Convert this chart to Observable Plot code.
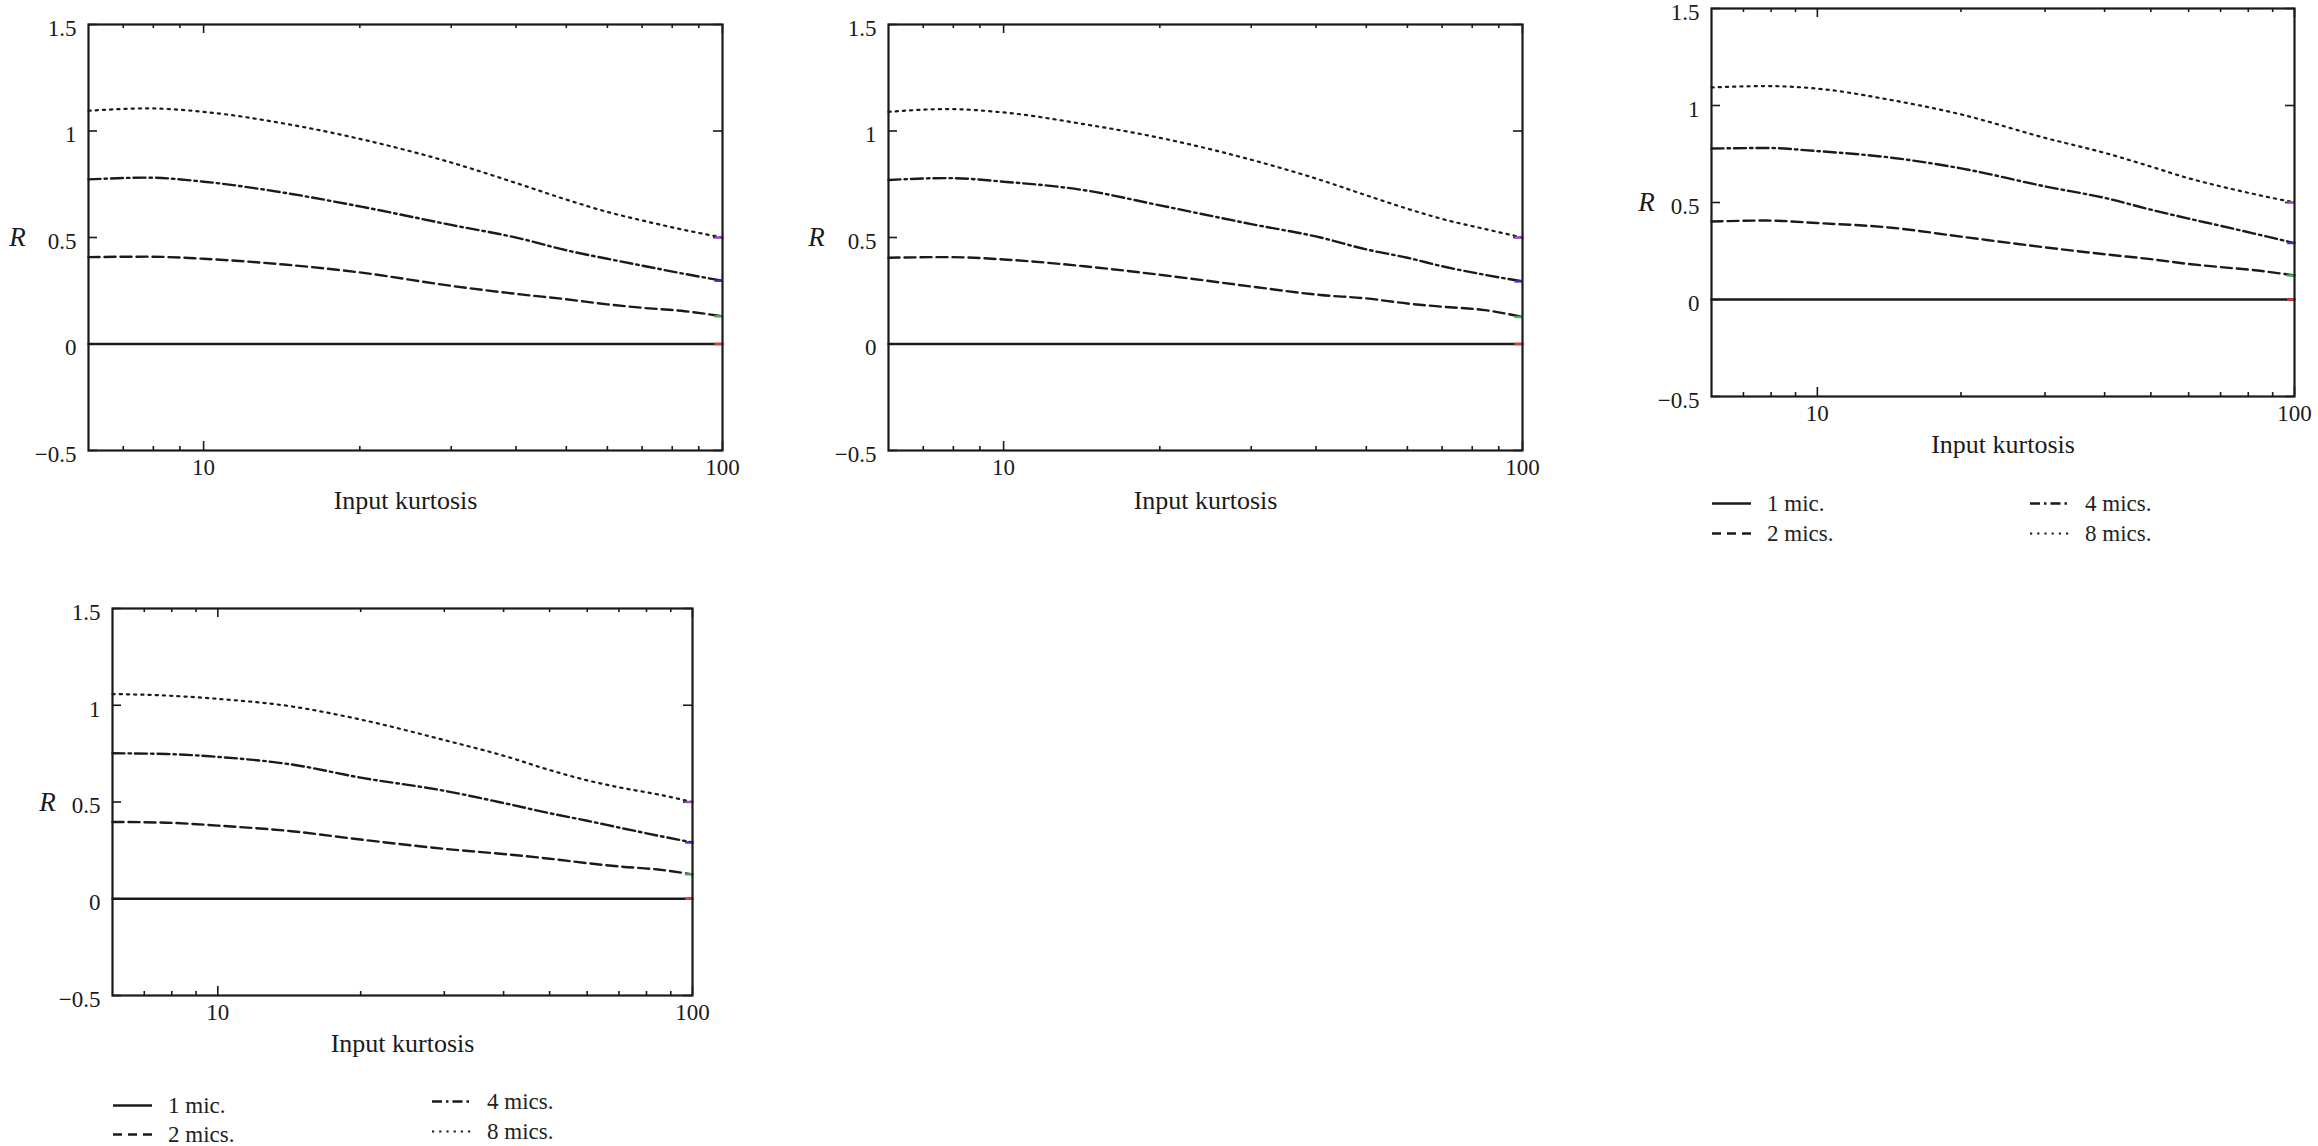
<!DOCTYPE html>
<html><head><meta charset="utf-8">
<script src="https://cdn.jsdelivr.net/npm/d3@7"></script>
<script src="https://cdn.jsdelivr.net/npm/@observablehq/plot@0.6"></script>
<style>
html,body{margin:0;padding:0;background:#fff;}
#root{position:relative;width:2318px;height:1146px;overflow:hidden;font-family:"Liberation Serif",serif;color:#222;background:#fff;}
.panel{position:absolute;}
.legend-item{position:absolute;display:flex;align-items:center;font-size:23px;line-height:1;white-space:nowrap;transform:translateY(-50%);}
.legend-item svg{margin-right:16px;}
</style></head><body><div id="root"></div>
<script>
// ---- data ----
const seriesNames = ["1 mic.", "2 mics.", "4 mics.", "8 mics."];
const kurtosis = [6, 7.8, 10, 14.3, 20, 30, 40.8, 50, 60, 70, 84.6, 100];
const xMinorTicks = [7, 8, 9, 20, 30, 40, 50, 60, 70, 80, 90];
const xMajorTicks = [10, 100];
const yTicks = [-0.5, 0, 0.5, 1, 1.5];

// Panel 1 (top left)
const p1_mic1 = [0, 0, 0, 0, 0, 0, 0, 0, 0, 0, 0, 0];
const p1_mic2 = [0.408, 0.41, 0.40, 0.373, 0.336, 0.273, 0.233, 0.21, 0.186, 0.17, 0.154, 0.13];
const p1_mic4 = [0.773, 0.781, 0.762, 0.71, 0.646, 0.559, 0.495, 0.44, 0.40, 0.368, 0.329, 0.297];
const p1_mic8 = [1.095, 1.106, 1.09, 1.035, 0.963, 0.852, 0.749, 0.678, 0.62, 0.58, 0.535, 0.50];
// Panel 2 (top middle)
const p2_mic1 = [0, 0, 0, 0, 0, 0, 0, 0, 0, 0, 0, 0];
const p2_mic2 = [0.405, 0.408, 0.397, 0.365, 0.325, 0.27, 0.23, 0.214, 0.19, 0.175, 0.159, 0.127];
const p2_mic4 = [0.77, 0.779, 0.762, 0.722, 0.651, 0.563, 0.50, 0.444, 0.405, 0.365, 0.325, 0.294];
const p2_mic8 = [1.09, 1.103, 1.087, 1.032, 0.968, 0.865, 0.77, 0.698, 0.635, 0.587, 0.54, 0.50];
// Panel 3 (top right)
const p3_mic1 = [0, 0, 0, 0, 0, 0, 0, 0, 0, 0, 0, 0];
const p3_mic2 = [0.402, 0.407, 0.394, 0.37, 0.324, 0.269, 0.231, 0.208, 0.183, 0.167, 0.148, 0.124];
const p3_mic4 = [0.778, 0.781, 0.765, 0.731, 0.676, 0.583, 0.519, 0.463, 0.417, 0.38, 0.333, 0.291];
const p3_mic8 = [1.093, 1.10, 1.087, 1.028, 0.954, 0.833, 0.75, 0.685, 0.625, 0.583, 0.537, 0.50];
// Panel 4 (bottom left)
const p4_mic1 = [0, 0, 0, 0, 0, 0, 0, 0, 0, 0, 0, 0];
const p4_mic2 = [0.397, 0.393, 0.378, 0.349, 0.306, 0.258, 0.229, 0.207, 0.184, 0.167, 0.151, 0.126];
const p4_mic4 = [0.752, 0.748, 0.733, 0.694, 0.626, 0.558, 0.49, 0.442, 0.403, 0.368, 0.326, 0.291];
const p4_mic8 = [1.058, 1.05, 1.033, 0.994, 0.926, 0.82, 0.733, 0.665, 0.612, 0.576, 0.539, 0.50];

const endColors = ["#e03a3a", "#3fb34f", "#3434c8", "#a848c8"];
const endMarkStart = 96.5;

// ---- styles ----
const dashes = [null, "11,5", "12,4,2.5,4", "2.2,5"];
const ink = "#1a1a1a";

const panels = [
  {svgLeft: 0, svgTop: 0, left: 88, right: 722, top: 24, bottom: 450, mb: 90, rOff: 71, titleDy: 58,
   values: [p1_mic1, p1_mic2, p1_mic4, p1_mic8]},
  {svgLeft: 790, svgTop: 0, left: 888, right: 1522, top: 24, bottom: 450, mb: 90, rOff: 72, titleDy: 58,
   values: [p2_mic1, p2_mic2, p2_mic4, p2_mic8]},
  {svgLeft: 1610, svgTop: 0, left: 1711, right: 2294, top: 8, bottom: 396, mb: 80, rOff: 65, titleDy: 56,
   values: [p3_mic1, p3_mic2, p3_mic4, p3_mic8]},
  {svgLeft: 0, svgTop: 560, left: 112, right: 692, top: 608, bottom: 995, mb: 80, rOff: 65, titleDy: 56,
   values: [p4_mic1, p4_mic2, p4_mic4, p4_mic8]}
];

const fmtY = d => d < 0 ? "\u2212" + String(-d) : String(d);
const root = document.getElementById("root");

function drawPanel(p) {
  const plotW = p.right - p.left, plotH = p.bottom - p.top;
  const ml = p.left - p.svgLeft, mt = p.top - p.svgTop, mr = 22;
  const marks = [];
  marks.push(Plot.tickX(xMinorTicks, {x: d => d, insetTop: plotH - 4, stroke: ink, strokeWidth: 1.6}));
  marks.push(Plot.tickX(xMinorTicks, {x: d => d, insetBottom: plotH - 4, stroke: ink, strokeWidth: 1.6}));
  marks.push(Plot.tickX(xMajorTicks, {x: d => d, insetTop: plotH - 9, stroke: ink, strokeWidth: 1.6}));
  marks.push(Plot.tickX(xMajorTicks, {x: d => d, insetBottom: plotH - 9, stroke: ink, strokeWidth: 1.6}));
  marks.push(Plot.tickY(yTicks, {y: d => d, insetRight: plotW - 9, stroke: ink, strokeWidth: 1.6}));
  marks.push(Plot.tickY(yTicks, {y: d => d, insetLeft: plotW - 9, stroke: ink, strokeWidth: 1.6}));
  seriesNames.forEach((name, i) => {
    const data = kurtosis.map((k, j) => ({k, r: p.values[i][j]}));
    marks.push(Plot.line(data, {x: "k", y: "r", stroke: ink, strokeWidth: i === 3 ? 2.2 : 2.4, strokeDasharray: dashes[i], curve: "monotone-x"}));
  });
  const ends = seriesNames.map((name, i) => ({r: p.values[i][p.values[i].length - 1], c: endColors[i]}));
  marks.push(Plot.link(ends, {x1: () => endMarkStart, x2: () => 100, y1: "r", y2: "r", stroke: "c", strokeWidth: 2.4}));
  marks.push(Plot.frame({stroke: ink, strokeWidth: 2.2}));
  marks.push(Plot.axisX(xMajorTicks, {tickSize: 0, tickPadding: 8, tickFormat: d => String(d), label: null, fontSize: 23}));
  marks.push(Plot.axisY(yTicks, {tickSize: 0, tickPadding: 12, tickFormat: fmtY, label: null, dy: 4, fontSize: 23}));
  marks.push(Plot.text(["Input kurtosis"], {text: d => d, frameAnchor: "bottom", dy: p.titleDy, fontSize: 26, fill: ink}));
  marks.push(Plot.text(["R"], {text: d => d, frameAnchor: "left", dx: -p.rOff, textAnchor: "middle", fontSize: 27, fontStyle: "italic", fill: ink}));

  const svg = Plot.plot({
    width: ml + plotW + mr,
    height: mt + plotH + p.mb,
    marginLeft: ml, marginRight: mr, marginTop: mt, marginBottom: p.mb,
    x: {type: "log", domain: [6, 100]},
    y: {domain: [-0.5, 1.5]},
    color: {type: "identity"},
    style: {fontFamily: "Liberation Serif", fontSize: "23px", color: ink, background: "transparent", overflow: "visible"},
    marks
  });
  svg.classList.add("panel");
  svg.style.left = p.svgLeft + "px";
  svg.style.top = p.svgTop + "px";
  svg.style.position = "absolute";
  root.appendChild(svg);
}
panels.forEach(drawPanel);

// ---- legends ----
function legendItem(x, y, i) {
  const div = document.createElement("div");
  div.className = "legend-item";
  div.style.left = x + "px";
  div.style.top = y + "px";
  const ns = "http://www.w3.org/2000/svg";
  const s = document.createElementNS(ns, "svg");
  s.setAttribute("width", 39); s.setAttribute("height", 6);
  const l = document.createElementNS(ns, "line");
  l.setAttribute("x1", 0); l.setAttribute("x2", 39); l.setAttribute("y1", 3); l.setAttribute("y2", 3);
  l.setAttribute("stroke", ink); l.setAttribute("stroke-width", i === 3 ? 2 : 2.4);
  if (dashes[i]) l.setAttribute("stroke-dasharray", i === 1 ? "9,6" : i === 2 ? "10,4,2.5,4" : dashes[i]);
  s.appendChild(l);
  div.appendChild(s);
  const t = document.createElement("span");
  t.textContent = seriesNames[i];
  div.appendChild(t);
  root.appendChild(div);
}
// legend under panel 3
legendItem(1712, 503, 0); legendItem(1712, 533, 1);
legendItem(2030, 503, 2); legendItem(2030, 533, 3);
// legend under panel 4
legendItem(113, 1105, 0); legendItem(113, 1134, 1);
legendItem(432, 1101, 2); legendItem(432, 1131, 3);
</script></body></html>
